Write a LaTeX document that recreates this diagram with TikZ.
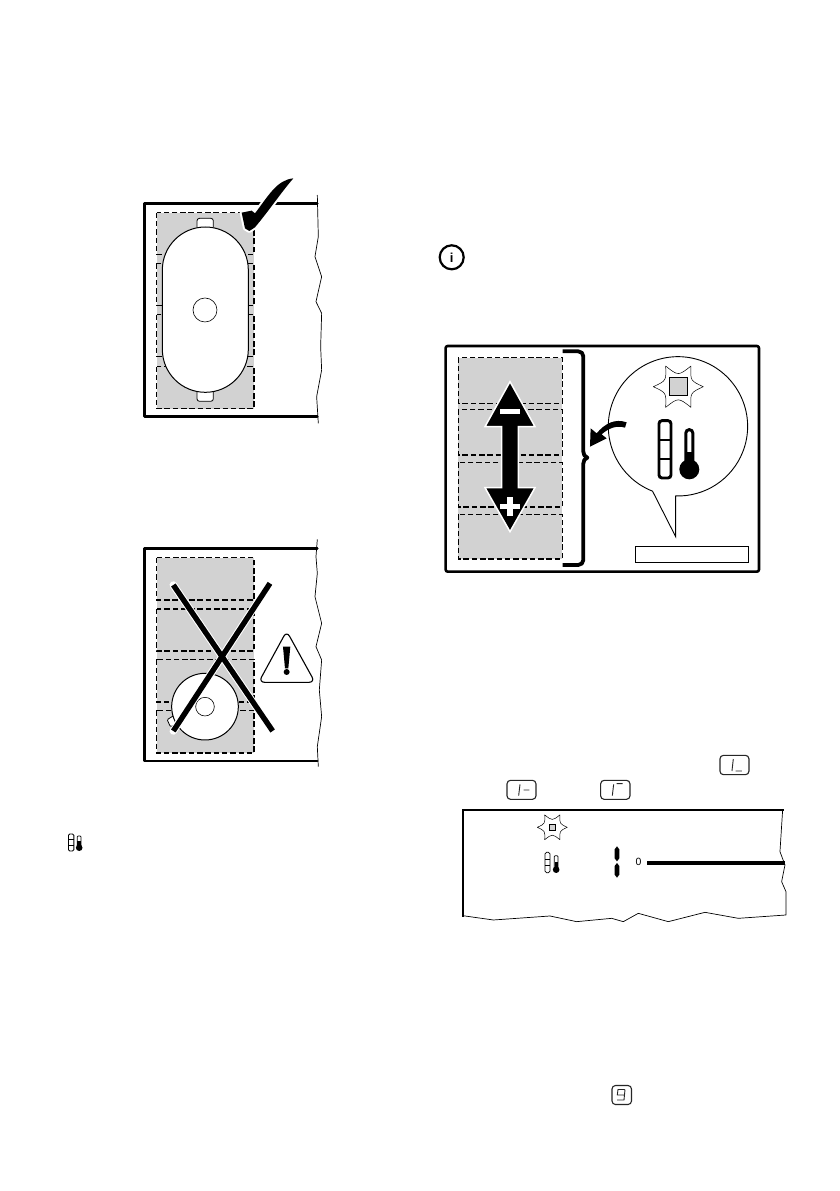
\documentclass[tikz,border=0pt]{standalone}
\usepackage{fontspec}
\usetikzlibrary{calc}
\setmainfont{Liberation Sans}
\definecolor{zonegrey}{HTML}{D2D2D2}
\tikzset{
  frameline/.style={line width=2.6pt,line cap=round,line join=round},
  zonefill/.style={fill=zonegrey,draw=none},
  zonedash/.style={draw=black,line width=1.35pt,dash pattern=on 5.5pt off 2.8pt},
  thinline/.style={line width=0.7pt,line join=round},
  potline/.style={draw=black,fill=white,line width=0.8pt},
  iconbox/.style={draw=black!85,line width=1.1pt,rounded corners=3.5pt},
  segline/.style={draw=black!85,line width=0.9pt},
  zoomA/.style={shift={(130,170)},x=0.3333pt,y=-0.3333pt},
  zoomB/.style={shift={(130,530)},x=0.3333pt,y=-0.3333pt},
  zoomC/.style={shift={(430,335)},x=0.3333pt,y=-0.3333pt},
  zoomD/.style={shift={(430,745)},x=0.3333pt,y=-0.3333pt},
}
% centre x, centre y, scale, square line width, square half size
\newcommand{\sunstar}[5]{%
  \begin{scope}[shift={(#1,#2)},x=#3pt,y=-#3pt]
    \draw[line width=0.5pt,line join=round,fill=white] (75,0) .. controls (36,-18) .. (38,-62) .. controls (0,-32) .. (-38,-62) .. controls (-36,-18) .. (-75,0) .. controls (-36,18) .. (-38,62) .. controls (0,32) .. (38,62) .. controls (36,18) .. cycle;
    \draw[fill=zonegrey,line width=#4pt] (-#5,-#5) rectangle (#5,#5);
  \end{scope}}
\newcommand{\iconframe}[4]{\draw[iconbox] (#1,#2) rectangle (#3,#4);}
\newcommand{\checkpath}{(490,25) .. controls (440,30) and (415,78) .. (375,130) -- (365,122) -- (335,128) -- (345,175) -- (358,183) -- (375,172) .. controls (420,118) and (450,72) .. cycle}
\begin{document}
\begin{tikzpicture}[x=1pt,y=-1pt]
\useasboundingbox (0,0) rectangle (839,1191);
\fill[white] (0,0) rectangle (839,1191);

% ---------- panel 1
\begin{scope}[zoomA]
  \draw[frameline] (562,100) -- (43,100) -- (43,740) -- (562,740);
  \draw[thinline] (562,75) -- (565,200) -- (555,260) -- (575,320) -- (558,395) -- (575,430) -- (572,530) -- (575,600) -- (560,680) -- (565,760);
  \fill[zonefill] (80,128) rectangle (372,716);
  \foreach \a/\b in {128/253,280/406,434/560,590/716}
    \draw[zonedash] (80,\a) rectangle (372,\b);
  \draw[potline,rounded corners=2.5pt] (201,172) -- (201,145) -- (250,145) -- (250,172);
  \draw[potline,rounded corners=2.5pt] (201,665) -- (201,694) -- (250,694) -- (250,665);
  \draw[potline,line width=1pt] (97,300) arc[start angle=180,end angle=360,x radius=129,y radius=129] -- (355,538) arc[start angle=0,end angle=180,x radius=129,y radius=129] -- cycle;
  \draw[line width=0.6pt] (225,420) circle[radius=36];
  \draw[white,line width=4pt,line join=round] \checkpath;
  \fill[black] \checkpath;
\end{scope}

% ---------- panel 2
\begin{scope}[zoomB]
  \draw[frameline] (562,55) -- (43,55) -- (43,693) -- (562,693);
  \draw[thinline] (562,28) -- (558,80) -- (562,130) -- (555,200) -- (575,280) -- (558,350) -- (575,390) -- (568,480) -- (575,560) -- (562,650) -- (565,710);
  \fill[zonefill] (80,83) rectangle (372,669);
  \foreach \a/\b in {83/210,237/363,388/516,541/669}
    \draw[zonedash] (80,\a) rectangle (372,\b);
  \coordinate (potc) at (225,530);
  \draw[potline,rounded corners=1pt] (potc) +(147:92) -- +(150:120) -- +(161:120) -- +(165:92) -- cycle;
  \draw[potline,line width=1pt] (potc) circle[radius=100];
  \draw[line width=0.6pt] (potc) circle[radius=28];
  \draw[white,line width=7.5pt,line cap=round] (130,165) -- (428,603);
  \draw[white,line width=7.5pt,line cap=round] (130,603) -- (420,160);
  \draw[black,line width=5.4pt] (130,165) -- (428,603);
  \draw[black,line width=5.4pt] (130,603) -- (420,160);
  % warning sign
  \draw[line width=1.1pt,fill=white,rounded corners=6pt,line join=round] (470,303) -- (555,457) -- (386,457) -- cycle;
  \fill[black] (459,350) -- (481,350) -- (475,415) -- (465,415) -- cycle;
  \fill[black] (470,426) circle[radius=9];
\end{scope}

% ---------- info symbol
\draw[line width=2.2pt] (451.7,257.3) circle[radius=12];
\node (infoi) at (451.7,257.5) [inner sep=0pt,font=\fontsize{13}{13}\selectfont\bfseries] {i};

% ---------- panel 3
\begin{scope}[zoomC]
  \draw[frameline,rounded corners=2pt] (47,33) rectangle (987,710);
  \fill[zonefill] (85,68) rectangle (397,672);
  \foreach \a/\b in {68/205,223/360,382/516,538/672}
    \draw[zonedash] (85,\a) rectangle (397,\b);
  \draw[white,fill=black,line width=1.5pt,line join=miter] (240,140) -- (315,275) -- (265,275) -- (265,458) -- (315,458) -- (240,590) -- (165,458) -- (215,458) -- (215,275) -- (165,275) -- cycle;
  \fill[white] (210,222) rectangle (270,237);
  \fill[white] (210,507) rectangle (270,522);
  \fill[white] (232,486) rectangle (248,544);
  \draw[line width=3.8pt,line join=round] (398,49) -- (445,49) to[out=0,in=90] (460,64) -- (460,350) to[out=-90,in=160] (472,368) to[out=200,in=90] (460,386) -- (460,675) to[out=-90,in=0] (445,690) -- (398,690);
  \coordinate (bal) at (744,274);
  \draw[line width=0.9pt,line join=miter,fill=white] ($(bal)+(111.4:209)$) arc[start angle=111.4,end angle=451.9,radius=209] -- (737,605) -- cycle;
  \fill[black] (590,262) .. controls (555,250) and (525,265) .. (500,295) -- (482,280) -- (480,335) -- (530,310) -- (515,298) .. controls (535,280) and (560,270) .. (585,278) -- cycle;
  \draw[line width=2.9pt,rounded corners=3pt] (687,257) rectangle (723,429);
  \draw[line width=1.9pt] (687,315) -- (723,315) (687,373) -- (723,373);
  \draw[line width=3pt,fill=white,rounded corners=3.4pt] (767.5,392) -- (767.5,284) -- (788.5,284) -- (788.5,392);
  \fill[black] (767,352) rectangle (789,395);
  \fill[black] (778,403) circle[radius=30];
  \draw[line width=1pt] (617,635) rectangle (955,682);
\end{scope}
\sunstar{678.3}{386.7}{0.3333}{1.5}{27}

% ---------- panel 4
\begin{scope}[zoomD]
  \draw[line width=2.2pt,line cap=rect] (1060,195) -- (98,195) -- (98,512);
  \draw[thinline] (1058,195) -- (1050,320) -- (1065,360) -- (1055,410) -- (1068,440) -- (1068,510) -- (925,520) -- (825,502) -- (715,530) -- (625,505) -- (580,530) -- (545,520) -- (440,530) -- (360,513) -- (190,525) -- (98,512);
  \draw[line width=0.8pt,rounded corners=1.5pt] (345,322) rectangle (360,383);
  \draw[line width=0.7pt] (345,342) -- (360,342) (345,362) -- (360,362);
  \draw[line width=0.7pt,fill=white,rounded corners=1pt] (373,368) -- (373,332) -- (384,332) -- (384,368);
  \fill[black] (378.5,374) circle[radius=10];
  \fill[black] (374,350) rectangle (383,372);
  \fill[black] (561,304) -- (568,313) -- (568,340) -- (561,349) -- (554,340) -- (554,313) -- cycle;
  \fill[black] (561,354) -- (568,363) -- (568,389) -- (561,398) -- (554,389) -- (554,363) -- cycle;
  \node (zero) at (626,352) [inner sep=0pt,font=\fontsize{10.5}{10.5}\selectfont] {0};
  \fill[black] (651,347) rectangle (1065,359);
  % display icons
  \iconframe{870}{31}{957}{89}
  \draw[segline] (910,42) -- (906,78) (917,78) -- (936,78);
  \iconframe{231}{106}{318}{163}
  \draw[segline] (270,118) -- (266,152) (281,135) -- (298,135);
  \iconframe{512}{106}{600}{163}
  \draw[segline] (551,118) -- (547,152) (560,116) -- (578,116);
\end{scope}
\sunstar{552.3}{827.3}{0.2}{0.7}{16}

% ---------- [9] icon
\draw[iconbox] (612,1085.5) rectangle (631.5,1104.5);
\draw[segline] (624.5,1089.5) -- (618,1089.5) -- (617.3,1095) -- (624,1095) (625,1089.5) -- (624,1100) -- (617,1100);

% ---------- small indicator in the text
\draw[line width=0.9pt,rounded corners=1.2pt] (68.5,834) rectangle (73.8,851);
\draw[line width=0.7pt] (68.5,839.7) -- (73.8,839.7) (68.5,845.3) -- (73.8,845.3);
\draw[line width=0.7pt,fill=white,rounded corners=0.8pt] (77.3,848) -- (77.3,836) -- (81,836) -- (81,848);
\fill[black] (79.2,847.7) circle[radius=3.3];
\fill[black] (77.3,841) rectangle (81,847);
\end{tikzpicture}
\end{document}
